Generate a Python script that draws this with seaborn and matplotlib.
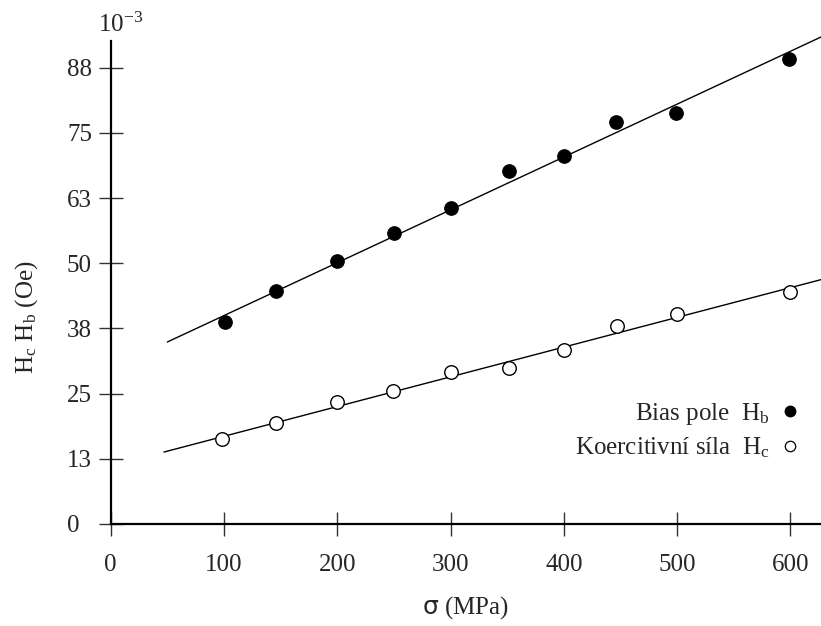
import matplotlib
matplotlib.use("Agg")
import matplotlib.pyplot as plt
from matplotlib.lines import Line2D
import seaborn as sns
import pandas as pd

# ---- data ----
sigma_b = [101, 146, 200, 250, 300, 352, 400, 446, 499, 599]
h_b = [38.8, 44.7, 50.4, 55.8, 60.6, 67.7, 70.6, 77.1, 78.8, 89.2]
sigma_c = [98, 146, 200, 249, 300, 352, 400, 447, 500, 600]
h_c = [16.3, 19.4, 23.4, 25.5, 29.1, 29.9, 33.4, 38.0, 40.3, 44.5]
fit_sigma_b = [50, 640]
fit_b = [34.9, 94.7]
fit_sigma_c = [47, 640]
fit_c = [13.8, 47.6]
xticks = [0, 100, 200, 300, 400, 500, 600]
yticks = [0, 12.5, 25, 37.5, 50, 62.5, 75, 87.5]
ytick_labels = ["0", "13", "25", "38", "50", "63", "75", "88"]

sns.set_style("ticks")
plt.rcParams["font.family"] = ["Liberation Serif", "DejaVu Serif"]
plt.rcParams["mathtext.fontset"] = "custom"
plt.rcParams["mathtext.rm"] = "Liberation Serif"
plt.rcParams["mathtext.it"] = "Liberation Serif:italic"

FS = 18
W, H = 821, 626
px_per_unit = 5.215
y_top_val = 100.0
left, right, bottom = 110.7, 821, 524
top = bottom - y_top_val * px_per_unit

fig = plt.figure(figsize=(8.21, 6.26), dpi=100)
ax = fig.add_axes([left / W, 1 - bottom / H, (right - left) / W, (bottom - top) / H])

df_b = pd.DataFrame({"sigma": sigma_b, "h": h_b})
df_c = pd.DataFrame({"sigma": sigma_c, "h": h_c})
df_fb = pd.DataFrame({"sigma": fit_sigma_b, "h": fit_b})
df_fc = pd.DataFrame({"sigma": fit_sigma_c, "h": fit_c})

sns.lineplot(data=df_fb, x="sigma", y="h", ax=ax, color="black", linewidth=1.0)
sns.lineplot(data=df_fc, x="sigma", y="h", ax=ax, color="black", linewidth=1.0)
sns.scatterplot(data=df_b, x="sigma", y="h", ax=ax, s=95, color="black",
                edgecolor="black", linewidth=0.8, zorder=3)
sns.scatterplot(data=df_c, x="sigma", y="h", ax=ax, s=95, facecolor="white",
                edgecolor="black", linewidth=1.0, zorder=3)

ax.set_xlim(0, 627)
ax.set_ylim(0, y_top_val)
ax.set_xticks(xticks)
ax.set_xticklabels([str(v) for v in xticks], fontsize=FS)
ax.set_yticks(yticks)
ax.set_yticklabels(ytick_labels, fontsize=FS)
ax.tick_params(axis="both", direction="inout", length=17, width=1.0, color="#333333")
ax.tick_params(axis="x", pad=13)
ax.tick_params(axis="y", pad=23)
for lab in ax.get_yticklabels():
    lab.set_horizontalalignment("left")
for s in ["top", "right"]:
    ax.spines[s].set_visible(False)
for s in ["left", "bottom"]:
    ax.spines[s].set_linewidth(1.6)
    ax.spines[s].set_color("black")
ax.spines["left"].set_bounds(0, 92.6)

ax.set_xlabel(r"$\mathsf{\sigma}$ (MPa)", fontsize=FS, labelpad=13)
ax.set_ylabel(r"H$_\mathrm{c}$ H$_\mathrm{b}$ (Oe)", fontsize=FS)
ax.yaxis.set_label_coords(-0.100, (524 - 317) / (bottom - top))

fig.text(98 / W, 1 - 25 / H, r"$10^{-3}$", fontsize=FS, ha="left", va="center")

handles = [
    Line2D([], [], marker="o", linestyle="none", markersize=7.5,
           markerfacecolor="black", markeredgecolor="black"),
    Line2D([], [], marker="o", linestyle="none", markersize=7.5,
           markerfacecolor="white", markeredgecolor="black", markeredgewidth=0.9),
]
labels = [r"Bias pole  H$_\mathrm{b}$", r"Koercitivní síla  H$_\mathrm{c}$"]
ax.legend(handles, labels, loc="center right",
          bbox_to_anchor=(1.005, (524 - 430.5) / (bottom - top)),
          frameon=False, markerfirst=False, fontsize=FS, handletextpad=0.3,
          labelspacing=0.35, handlelength=1.0)

fig.savefig("out.png", dpi=100)
